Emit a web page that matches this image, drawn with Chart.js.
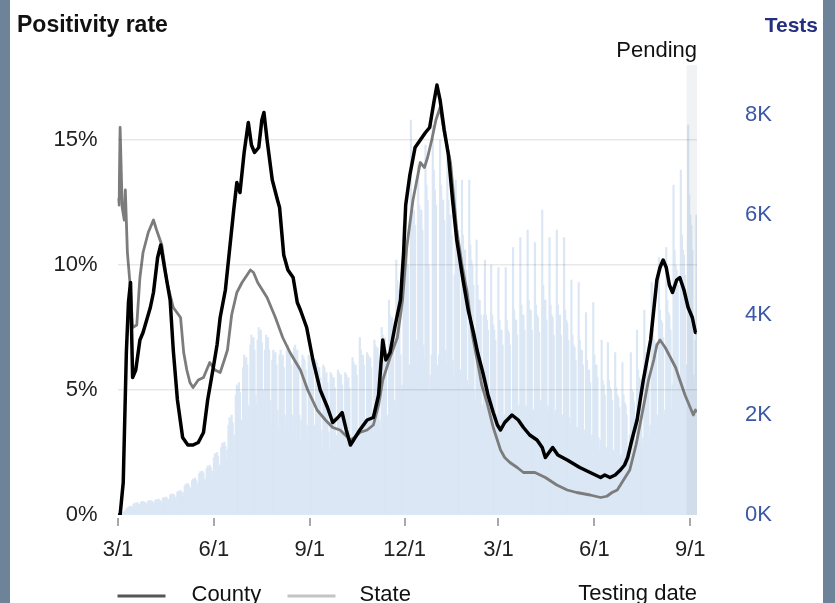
<!DOCTYPE html>
<html><head><meta charset="utf-8">
<script src="https://cdn.jsdelivr.net/npm/chart.js@4"></script>
<style>
html,body{margin:0;padding:0;background:#6d8399;width:835px;height:603px;overflow:hidden;}
#wrap{position:absolute;left:10px;top:0;width:813px;height:603px;background:#fff;}
canvas{display:block;}
</style></head><body>
<div id="wrap"><canvas id="c" width="813" height="603"></canvas></div>
<script>
// Day 0 = Sun 3/1/2020
const countyPoints = [[0,0],[2,0],[5,1.3],[8,6.5],[10,8.5],[12,9.3],[14,5.5],[17,5.8],[21,7.0],[24,7.3],[31,8.3],[34,8.9],[38,10.3],[41,10.8],[45,9.8],[50,8.6],[53,6.6],[57,4.6],[62,3.1],[67,2.8],[72,2.8],[77,2.9],[82,3.3],[86,4.6],[91,5.8],[95,6.8],[98,7.9],[103,9.0],[107,10.6],[111,12.2],[114,13.3],[117,12.9],[121,14.5],[125,15.7],[128,14.8],[131,14.5],[135,14.7],[138,15.8],[140,16.1],[143,15.0],[148,13.4],[153,12.6],[155,12.3],[159,10.4],[163,9.8],[168,9.5],[172,8.5],[175,8.2],[181,7.5],[187,6.2],[194,5.0],[201,4.3],[206,3.7],[211,3.9],[215,4.1],[219,3.4],[223,2.8],[226,3.0],[232,3.4],[239,3.8],[245,3.9],[250,4.8],[254,7.0],[257,6.2],[261,6.5],[266,7.6],[271,8.6],[274,10.5],[276,12.4],[280,13.6],[285,14.7],[290,15.0],[295,15.3],[299,15.5],[303,16.5],[306,17.2],[309,16.6],[313,15.4],[317,14.4],[321,12.6],[325,11.0],[331,9.4],[336,8.2],[341,7.3],[345,6.5],[350,5.7],[355,4.8],[360,4.1],[364,3.6],[367,3.4],[371,3.7],[378,4.0],[384,3.8],[389,3.5],[395,3.2],[402,3.0],[407,2.7],[410,2.3],[417,2.7],[422,2.4],[431,2.2],[439,2.0],[443,1.9],[453,1.7],[463,1.5],[467,1.6],[472,1.5],[477,1.6],[482,1.8],[486,2.0],[489,2.3],[493,3.0],[498,3.8],[501,4.6],[504,5.4],[508,6.3],[511,7.0],[514,8.2],[517,9.4],[520,9.9],[523,10.2],[526,9.9],[529,9.2],[532,8.9],[536,9.4],[539,9.5],[543,9.0],[547,8.3],[551,7.9],[554,7.3],[555,7.3]];
const statePoints = [[0,12.7],[1,12.4],[2,15.5],[4,12.3],[6,11.8],[7,13.0],[9,10.5],[12,9.0],[14,7.5],[18,7.6],[21,9.5],[24,10.5],[29,11.3],[34,11.8],[37,11.4],[42,10.8],[47,9.3],[53,8.3],[60,7.9],[63,6.5],[66,5.8],[69,5.3],[72,5.1],[77,5.4],[82,5.5],[85,5.8],[88,6.1],[93,5.8],[98,5.7],[102,6.2],[105,6.6],[109,8.0],[114,8.9],[119,9.3],[127,9.8],[130,9.7],[134,9.3],[143,8.7],[151,7.9],[158,7.1],[165,6.5],[175,5.8],[182,5.0],[191,4.2],[199,3.8],[206,3.5],[213,3.4],[223,3.0],[227,3.1],[232,3.3],[239,3.4],[245,3.6],[250,4.4],[254,5.4],[261,6.3],[268,7.1],[273,8.6],[277,10.7],[283,12.6],[290,14.1],[294,13.9],[297,14.3],[301,15.0],[305,15.8],[309,16.3],[313,15.3],[319,14.1],[325,11.4],[330,10.0],[335,8.9],[340,7.2],[345,6.1],[349,5.2],[354,4.5],[360,3.5],[367,2.6],[371,2.3],[376,2.1],[383,1.9],[389,1.7],[400,1.7],[410,1.5],[421,1.2],[431,1.0],[440,0.9],[453,0.8],[463,0.7],[469,0.75],[474,0.9],[479,1.0],[485,1.4],[491,1.8],[497,2.8],[504,4.3],[509,5.4],[514,6.2],[517,6.8],[520,7.0],[525,6.7],[530,6.3],[535,5.9],[539,5.4],[544,4.8],[549,4.3],[552,4.0],[554,4.2],[555,4.1]];
// daily tests, one row per week (Sun..Sat)
const testsByWeek = [
[0,20,30,40,50,60,60],[90,120,140,160,170,180,150],[170,220,230,240,250,240,200],[210,260,270,270,260,250,220],
[230,280,290,280,290,270,240],[250,300,310,300,320,300,260],[270,340,350,340,360,340,290],[310,400,420,410,420,400,330],
[360,460,480,470,490,460,380],[450,580,620,600,630,590,480],[540,690,720,710,740,700,560],[640,830,870,860,880,840,680],
[720,930,980,960,1000,950,780],[880,1150,1230,1200,1250,1180,940],[1000,1350,1440,1400,1460,1380,1100],[1300,1800,1950,1900,2000,1850,1450],
[1600,2400,2600,2500,2650,2450,1800],[1900,2950,3200,3100,3150,3000,2200],[2100,3400,3600,3500,3550,3300,2400],[2200,3500,3750,3650,3700,3450,2500],
[2100,3300,3600,3500,3550,3300,2300],[1800,3100,3300,3200,3250,3000,2100],[1700,3200,3300,3100,3200,2950,2000],[1700,3300,3400,3200,3250,3000,2000],
[1650,3350,3400,3250,3300,3050,2000],[1500,1900,3200,3150,3100,2900,1800],[1500,3200,3150,3000,3050,2850,1800],[1400,3100,3050,2900,2950,2750,1700],
[1350,3000,2950,2800,2850,2650,1650],[1300,2850,2800,2700,2750,2550,1600],[1300,2900,2850,2750,2800,2600,1600],[1300,2850,2800,2700,2750,2550,1600],
[1400,3150,3050,2950,3000,2800,1700],[1550,3550,3300,3150,3200,3000,1850],[1500,3250,3200,3100,3150,2950,1800],[1600,3500,3400,3300,3350,3100,1900],
[1700,3750,3600,3500,3550,3300,2000],[1900,4300,4000,3900,3950,3700,2300],[2200,5100,4700,4500,4000,3200,2500],[2600,5800,5400,5200,5300,5000,3000],
[3000,7900,6300,6000,6100,5800,3500],[3000,7000,6200,6000,6100,5700,3400],[3100,7400,6600,6300,5000,2500,2800],[3200,7800,6900,6500,6200,2600,3000],
[3200,7500,6600,6300,6300,5900,3300],[3000,7200,6300,6000,6000,5600,3100],[2800,4800,6700,5800,5700,5300,2900],[2700,6700,5600,5300,5300,4900,2700],
[2600,6700,5400,5100,5000,4600,2500],[2300,5500,4600,4300,4300,4000,2200],[2100,4000,5100,4000,3900,3700,2100],[2000,5000,4000,3800,3700,3500,2000],
[2000,4950,3900,3700,3700,3400,1950],[2000,4950,3900,3700,3650,3400,1950],[2100,5350,4100,3900,3900,3600,2050],[2200,5550,4200,4000,4000,3700,2100],
[2200,5700,4300,4100,4100,3700,2100],[2100,5450,4200,4000,3950,3650,2050],[2300,6100,4600,4300,4300,3900,2200],[2100,5550,4200,4000,3950,3600,2000],
[2100,5700,4200,4000,4000,3600,2000],[2000,5550,4100,3900,3850,3500,1950],[1800,4700,3600,3400,3350,3100,1750],[1750,4650,3500,3300,3300,3000,1700],
[1550,4050,3100,2900,2900,2650,1500],[1600,4250,3200,3000,3000,2750,1550],[1300,1500,3500,2700,2600,2400,1300],[1350,3450,2700,2550,2500,2300,1300],
[1250,3250,2550,2400,2350,2150,1200],[1200,3050,2400,2250,2200,2000,1150],[1100,1600,3250,2500,2450,2250,1250],[1400,3700,2900,2750,2700,2500,1400],
[1550,4100,3250,3050,3000,2800,1550],[1800,4650,3700,3500,3450,3200,1800],[2000,5150,4100,3900,3850,3550,2000],[2100,5350,4300,4050,4000,3700,2100],
[2600,6600,5300,5000,4900,4600,2600],[2700,6900,5600,5300,5200,4800,2700],[3000,7800,6400,6000,5800,5300,2800],[2500,3500,6000]
];
const xTickDays = [0,92,184,275,365,457,549];
const xTickLabels = ['3/1','6/1','9/1','12/1','3/1','6/1','9/1'];
const leftTicks = [0,5,10,15];
const rightTicks = [0,2000,4000,6000,8000];
const pendingFirstDay = 546;

const FONT = '"Liberation Sans", Arial, sans-serif';
const toXY = a => a.map(p => ({x:p[0], y:p[1]}));
const dailyTests = testsByWeek.flat().map((v,i) => ({x:i, y:v}));
const lastDay = dailyTests.length - 1;

const decor = {
  id:'decor',
  afterDatasetDraw(chart, args){
    if (args.meta.type !== 'bar') return;
    const {ctx, chartArea:a, scales:{x}} = chart;
    const x0 = x.getPixelForValue(pendingFirstDay - 0.5);
    ctx.save();
    ctx.fillStyle = 'rgba(150,160,175,0.14)';
    ctx.fillRect(x0, a.top, a.right - x0, a.bottom - a.top);
    ctx.restore();
  },
  afterDraw(chart){
    const {ctx, chartArea:a, scales:{x}} = chart;
    ctx.save();
    // x tick marks
    ctx.strokeStyle = '#a8a8a8';
    ctx.lineWidth = 2;
    x.ticks.forEach(t => {
      const px = Math.round(x.getPixelForValue(t.value));
      ctx.beginPath(); ctx.moveTo(px, a.bottom + 3); ctx.lineTo(px, a.bottom + 11); ctx.stroke();
    });
    ctx.textBaseline = 'alphabetic';
    ctx.fillStyle = '#111';
    ctx.font = 'bold 23px ' + FONT;
    ctx.textAlign = 'left';
    ctx.fillText('Positivity rate', 7, 32);
    ctx.fillStyle = '#24307f';
    ctx.font = 'bold 21px ' + FONT;
    ctx.textAlign = 'right';
    ctx.fillText('Tests', chart.width - 5, 32);
    ctx.fillStyle = '#111';
    ctx.font = '22px ' + FONT;
    ctx.fillText('Pending', a.right, 57);
    ctx.fillText('Testing date', a.right, 600);
    // legend
    ctx.lineWidth = 3;
    ctx.strokeStyle = '#555';
    ctx.beginPath(); ctx.moveTo(a.left, 596); ctx.lineTo(a.left + 48, 596); ctx.stroke();
    ctx.strokeStyle = '#c4c4c4';
    ctx.beginPath(); ctx.moveTo(a.left + 170, 596); ctx.lineTo(a.left + 218, 596); ctx.stroke();
    ctx.textAlign = 'left';
    ctx.fillStyle = '#111';
    ctx.fillText('County', a.left + 74, 601);
    ctx.fillText('State', a.left + 242, 601);
    ctx.restore();
  }
};

new Chart(document.getElementById('c'), {
  type:'bar',
  data:{
    datasets:[
      {type:'line', label:'County', data:toXY(countyPoints), yAxisID:'y', borderColor:'#000', borderWidth:3.5, pointRadius:0, tension:0, borderJoinStyle:'round', order:0},
      {type:'line', label:'State', data:toXY(statePoints), yAxisID:'y', borderColor:'#7c7c7c', borderWidth:2.8, pointRadius:0, tension:0, borderJoinStyle:'round', order:1},
      {type:'bar', label:'Tests', data:dailyTests, yAxisID:'y1', backgroundColor:'#dbe7f4', borderWidth:0, barThickness:1.5, grouped:false, order:2}
    ]
  },
  options:{
    responsive:false, animation:false, devicePixelRatio:1,
    layout:{padding:{top:65,left:0,right:0,bottom:0}},
    plugins:{legend:{display:false}, tooltip:{enabled:false}, title:{display:false}},
    scales:{
      x:{type:'linear', min:-0.5, max:lastDay + 0.5, offset:false,
        grid:{display:false, offset:false, drawOnChartArea:false, drawTicks:true, tickLength:8},
        border:{display:false},
        ticks:{autoSkip:false, maxRotation:0, padding:14, color:'#222', font:{family:FONT, size:22},
          callback:v => xTickLabels[xTickDays.indexOf(v)] ?? ''},
        afterBuildTicks:s => { s.ticks = xTickDays.map(v => ({value:v})); },
        afterFit:s => { s.height = 88; }
      },
      y:{position:'left', min:0, max:18,
        grid:{z:1, drawTicks:false, lineWidth:1.5, color:c => c.tick && c.tick.value === 0 ? 'rgba(0,0,0,0)' : 'rgba(0,0,0,0.09)'},
        border:{display:false},
        ticks:{padding:20, color:'#222', font:{family:FONT, size:22}, callback:v => v + '%'},
        afterBuildTicks:s => { s.ticks = leftTicks.map(v => ({value:v})); },
        afterFit:s => { s.width = 107.5; }
      },
      y1:{position:'right', min:0, max:9000,
        grid:{display:false, drawTicks:false},
        border:{display:false},
        ticks:{padding:48, color:'#3a58a6', font:{family:FONT, size:22}, callback:v => (v/1000) + 'K'},
        afterBuildTicks:s => { s.ticks = rightTicks.map(v => ({value:v})); },
        afterFit:s => { s.width = 126; }
      }
    }
  },
  plugins:[decor]
});
</script>
</body></html>
